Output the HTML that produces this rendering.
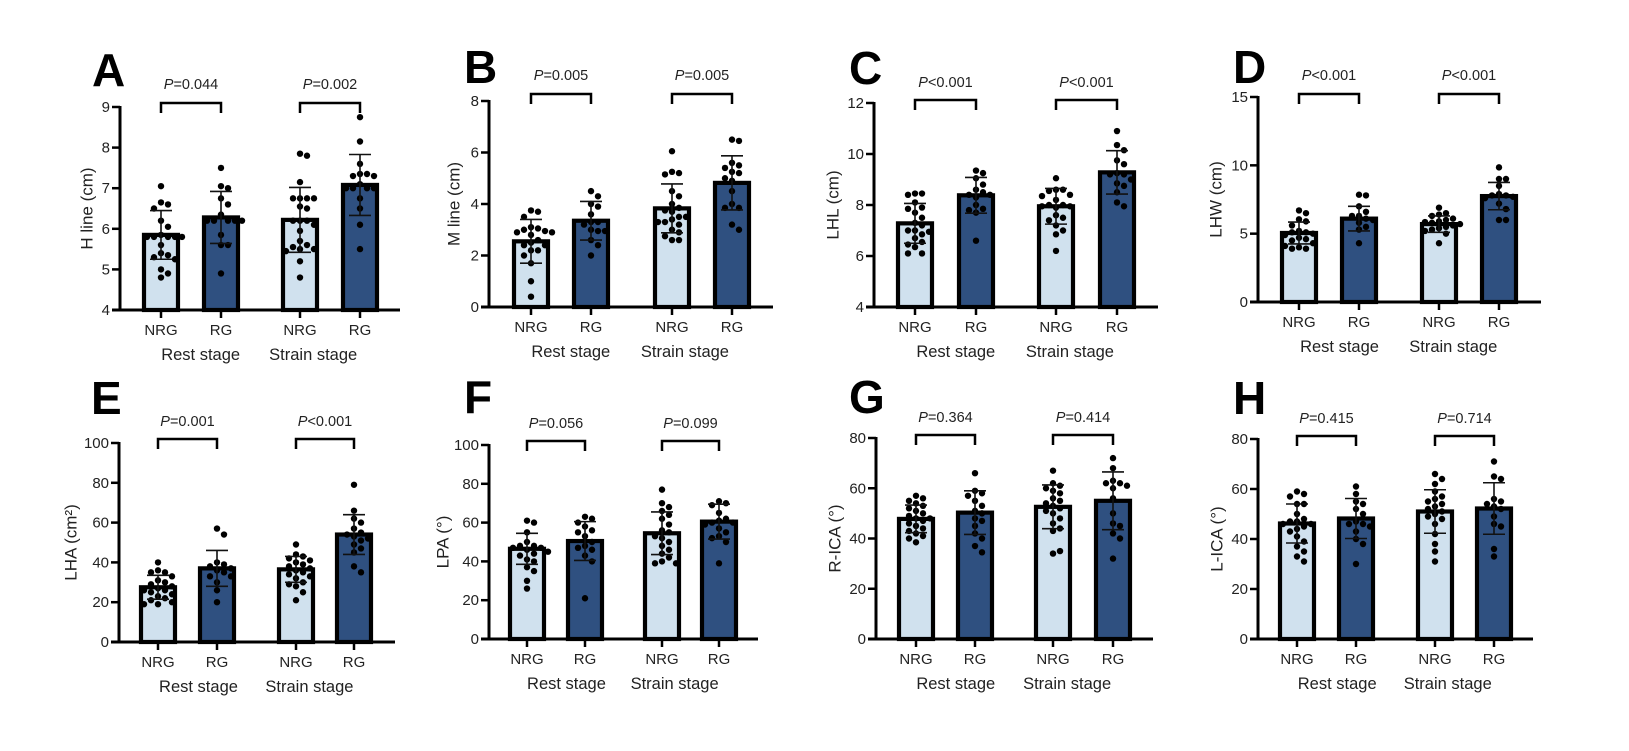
<!DOCTYPE html>
<html><head><meta charset="utf-8">
<style>
html,body{margin:0;padding:0;background:#fff;}
svg{display:block;font-family:"Liberation Sans",Arial,sans-serif;}
</style></head>
<body>
<svg id="fig" width="1629" height="751" viewBox="0 0 1629 751" xmlns="http://www.w3.org/2000/svg"></svg>
<script>
// ---- data (per panel, per group: NRG rest, RG rest, NRG strain, RG strain) ----
const groupLabels = ["NRG","RG","NRG","RG"];
const stageLabels = ["Rest stage","Strain stage"];

const aMeans = [5.85, 6.28, 6.22, 7.08];
const aSDs = [0.6, 0.64, 0.8, 0.75];
const aPoints = [
 [7.05,6.65,6.6,6.5,6.2,6.05,5.85,5.8,5.8,5.8,5.8,5.8,5.6,5.4,5.35,5.3,5.25,5.0,4.9,4.8],
 [7.5,7.05,7.0,6.75,6.6,6.35,6.2,6.2,6.2,6.2,6.2,5.85,5.6,5.6,4.9],
 [7.85,7.8,7.15,6.75,6.75,6.75,6.75,6.55,6.5,6.2,6.2,6.2,6.1,5.95,5.7,5.6,5.55,5.5,5.5,5.45,5.2,4.8],
 [8.75,8.15,7.6,7.35,7.35,7.3,7.3,7.1,7.0,7.0,7.0,7.0,6.75,6.5,6.1,5.5]];
const aP = ["=0.044","=0.002"];

const bMeans = [2.55, 3.35, 3.83, 4.82];
const bSDs = [0.85, 0.75, 0.95, 1.05];
const bPoints = [
 [3.75,3.7,3.5,3.1,3.05,3.0,2.95,2.9,2.9,2.8,2.6,2.5,2.4,2.4,2.2,2.2,2.0,1.7,1.0,0.4],
 [4.5,4.3,4.0,3.9,3.6,3.3,3.3,3.2,3.0,2.95,2.95,2.6,2.4,2.0],
 [6.05,5.25,5.2,5.15,4.5,4.3,4.0,3.85,3.75,3.7,3.5,3.5,3.4,3.3,3.3,3.2,3.0,2.9,2.75,2.6,2.6],
 [6.5,6.45,5.6,5.5,5.4,5.25,5.2,5.0,4.9,4.5,4.0,3.85,3.85,3.2,3.0]];
const bP = ["=0.005","=0.005"];

const cMeans = [7.28, 8.38, 7.95, 9.28];
const cSDs = [0.78, 0.7, 0.7, 0.85];
const cPoints = [
 [8.45,8.45,8.4,8.1,7.9,7.85,7.7,7.5,7.3,7.2,7.0,7.0,6.95,6.85,6.7,6.55,6.45,6.35,6.1,6.1],
 [9.35,9.25,9.05,8.8,8.6,8.5,8.4,8.4,8.3,8.0,7.85,7.8,7.7,6.6],
 [9.05,8.6,8.6,8.55,8.4,8.35,8.2,8.0,8.0,7.95,7.95,7.9,7.6,7.5,7.4,7.2,7.0,6.85,6.2],
 [10.9,10.35,10.15,9.75,9.6,9.25,9.2,9.2,9.0,8.85,8.75,8.5,8.1,7.95]];
const cP = ["<0.001","<0.001"];

const dMeans = [5.05, 6.1, 5.7, 7.75];
const dSDs = [0.8, 0.9, 0.6, 1.0];
const dPoints = [
 [6.7,6.5,6.05,5.9,5.6,5.2,5.1,5.1,5.0,4.9,4.7,4.6,4.5,4.3,4.0,3.9,3.9,4.1],
 [7.85,7.8,7.0,6.6,6.3,6.3,6.1,6.0,5.8,5.5,5.3,4.3],
 [6.9,6.5,6.4,6.3,6.1,6.0,5.9,5.85,5.8,5.7,5.6,5.5,5.4,5.3,5.2,5.0,4.3],
 [9.85,9.0,9.0,8.5,7.9,7.8,7.8,7.7,7.6,7.2,6.8,6.0,6.0]];
const dP = ["<0.001","<0.001"];

const eMeans = [27.5, 37, 36.5, 54];
const eSDs = [6, 9, 6.5, 10];
const ePoints = [
 [40,36,35,35,33,31,30,29,28,27,26,26,25,24,23,22,21,20,19,19],
 [57,54,40,39,38,37,36,35,33,33,30,26,20],
 [49,44,43,42,41,40,39,38,37,36,35,34,33,32,30,29,28,25,21],
 [79,66,62,60,57,55,54,53,52,51,49,47,45,38,35]];
const eP = ["=0.001","<0.001"];

const fMeans = [46.5, 50.5, 54.5, 60.5];
const fSDs = [8, 10, 11, 9];
const fPoints = [
 [61,60,55,50,48,48,47,47,46,45,44,43,41,40,37,35,30,26],
 [63,62,60,58,56,55,53,50,48,47,46,43,40,21],
 [77,70,68,66,64,62,59,56,55,53,52,50,48,46,44,42,40,39,39],
 [71,70,69,65,62,61,60,60,59,57,55,53,52,50,39]];
const fP = ["=0.056","=0.099"];

const gMeans = [47.8, 50.3, 52.6, 55];
const gSDs = [5.5, 8.7, 8.7, 11.5];
const gPoints = [
 [57,56,55,54,53,52,51,50,49,48,48,47,46,45,44,43,42,41,40,38.5],
 [66,59,58,57,55,53,51,50,48,47,45,42,40,37,34.5],
 [67,62,61,60,59,58,56,55,54,53,52,51,50,48,46,44,43,34,35],
 [72,68,63,62,62,61,60,56,50,46,45,42,40,32]];
const gP = ["=0.364","=0.414"];

const hMeans = [46.2, 48.2, 51, 52.2];
const hSDs = [7.8, 8, 8.7, 10.3];
const hPoints = [
 [59,58,57,54,54,50,48,47,47,46,46,45,44,43,41,39,37,35,33,31],
 [61,58,55,54,52,50,47,46,46,45,43,40,38,30],
 [66,64,62,59,57,56,55,54,53,52,51,50,49,48,46,42,38,35,31],
 [71,65,64,56,55,54,53,52,49,46,45,36,33]];
const hP = ["=0.415","=0.714"];

const aTicks = [4,5,6,7,8,9];
const bTicks = [0,2,4,6,8];
const cTicks = [4,6,8,10,12];
const dTicks = [0,5,10,15];
const eTicks = [0,20,40,60,80,100];
const fTicks = [0,20,40,60,80,100];
const gTicks = [0,20,40,60,80];
const hTicks = [0,20,40,60,80];

// ---- layout (geometry only) ----
const panels = [
 {id:"A",title:"H line (cm)",means:aMeans,sds:aSDs,pts:aPoints,p:aP,ticks:aTicks,ax:120,top:107,bot:310,right:400,cx:[161,221,300,360],lx:92,ly:86,py:89,by:103,tx:87},
 {id:"B",title:"M line (cm)",means:bMeans,sds:bSDs,pts:bPoints,p:bP,ticks:bTicks,ax:489,top:101,bot:307,right:773,cx:[531,591,672,732],lx:464,ly:83,py:80,by:94,tx:454},
 {id:"C",title:"LHL (cm)",means:cMeans,sds:cSDs,pts:cPoints,p:cP,ticks:cTicks,ax:874,top:103,bot:307,right:1158,cx:[915,976,1056,1117],lx:849,ly:84,py:87,by:100,tx:833},
 {id:"D",title:"LHW (cm)",means:dMeans,sds:dSDs,pts:dPoints,p:dP,ticks:dTicks,ax:1258,top:97,bot:302,right:1541,cx:[1299,1359,1439,1499],lx:1233,ly:83,py:80,by:94,tx:1216},
 {id:"E",title:"LHA (cm²)",means:eMeans,sds:eSDs,pts:ePoints,p:eP,ticks:eTicks,ax:119,top:443,bot:642,right:395,cx:[158,217,296,354],lx:91,ly:414,py:426,by:439,tx:71},
 {id:"F",title:"LPA (°)",means:fMeans,sds:fSDs,pts:fPoints,p:fP,ticks:fTicks,ax:489,top:445,bot:639,right:758,cx:[527,585,662,719],lx:464,ly:413,py:428,by:441,tx:443},
 {id:"G",title:"R-ICA (°)",means:gMeans,sds:gSDs,pts:gPoints,p:gP,ticks:gTicks,ax:876,top:438,bot:639,right:1153,cx:[916,975,1053,1113],lx:849,ly:413,py:422,by:435,tx:835},
 {id:"H",title:"L-ICA (°)",means:hMeans,sds:hSDs,pts:hPoints,p:hP,ticks:hTicks,ax:1258,top:439,bot:639,right:1533,cx:[1297,1356,1435,1494],lx:1233,ly:414,py:423,by:436,tx:1217}
];
const fills = ["#d0e1ee","#2f5080","#d0e1ee","#2f5080"];
const NS = "http://www.w3.org/2000/svg";
const svg = document.getElementById("fig");
function mk(tag, attrs, parent){
  const e = document.createElementNS(NS, tag);
  for (const k in attrs) e.setAttribute(k, attrs[k]);
  (parent||svg).appendChild(e);
  return e;
}
panels.forEach(P => {
  const g = mk("g", {});
  
  
  const y0 = P.ticks[0], y1 = P.ticks[P.ticks.length-1];
  const Y = v => P.bot - (v - y0) / (y1 - y0) * (P.bot - P.top);
  const L = mk("text", {x:P.lx, y:P.ly, "font-size":46, "font-weight":"bold", fill:"#000"}, g);
  L.textContent = P.id;
  
  
  const T = mk("text", {x:P.tx, y:(P.top+P.bot)/2, "font-size":17, "text-anchor":"middle", fill:"#222", transform:`rotate(-90 ${P.tx} ${(P.top+P.bot)/2})`, "dominant-baseline":"central"}, g);
  T.textContent = P.title;
  
  
  P.means.forEach((m, i) => {
    const c = P.cx[i];
    const r = mk("rect", {x:c-17, y:Y(m), width:34, height:P.bot - Y(m), fill:fills[i], stroke:"#000", "stroke-width":4.2}, g);
    
    
    // beeswarm placement
    const placed = [];
    const offs = [0,7,-7,14,-14,21,-21];
    P.pts[i].forEach(v => {
      const py = Y(v);
      let ox = 0;
      for (const o of offs) {
        if (!placed.some(q => Math.hypot(q[0]-o, q[1]-py) < 6.8)) { ox = o; break; }
      }
      placed.push([ox, py]);
      const d = mk("circle", {cx:c + ox, cy:py, r:3.2, fill:"#000"}, g);
      
      
    });
    const s = P.sds[i];
    const eb = mk("path", {d:`M${c} ${Y(m-s)}V${Y(m+s)}M${c-11} ${Y(m+s)}H${c+11}M${c-11} ${Y(m-s)}H${c+11}`, stroke:"#111", "stroke-width":1.6, fill:"none"}, g);
    
    
    mk("line", {x1:c, x2:c, y1:P.bot, y2:P.bot+8, stroke:"#000", "stroke-width":2.5}, g);
    const xl = mk("text", {x:c, y:P.bot+25, "font-size":15, "text-anchor":"middle", fill:"#222"}, g);
    xl.textContent = groupLabels[i];
    
    
  });
  const ya = mk("line", {x1:P.ax, x2:P.ax, y1:P.top-1, y2:P.bot+1.5, stroke:"#000", "stroke-width":3}, g);
  
  
  const xa = mk("line", {x1:P.ax-8, x2:P.right, y1:P.bot, y2:P.bot, stroke:"#000", "stroke-width":3}, g);
  
  
  P.ticks.forEach(t => {
    mk("line", {x1:P.ax-8, x2:P.ax, y1:Y(t), y2:Y(t), stroke:"#000", "stroke-width":2.5}, g);
    const tl = mk("text", {x:P.ax-10, y:Y(t)+5, "font-size":15, "text-anchor":"end", fill:"#222"}, g);
    tl.textContent = t;
    
    
  });
  const sx = [P.ax + (P.right-P.ax)*0.288, P.ax + (P.right-P.ax)*0.69];
  stageLabels.forEach((s, j) => {
    const st = mk("text", {x:sx[j], y:P.bot+50, "font-size":16.5, "text-anchor":"middle", fill:"#222"}, g);
    st.textContent = s;
    
    
  });
  [0,1].forEach(j => {
    const a = P.cx[2*j], b = P.cx[2*j+1];
    const br = mk("path", {d:`M${a} ${P.by+10}V${P.by}H${b}V${P.by+10}`, stroke:"#000", "stroke-width":2.5, fill:"none"}, g);
    
    
    const pt = mk("text", {x:(a+b)/2, y:P.py, "font-size":14.5, "text-anchor":"middle", fill:"#222"}, g);
    const it = mk("tspan", {"font-style":"italic"}, pt);
    it.textContent = "P";
    const rest = mk("tspan", {}, pt);
    rest.textContent = P.p[j];
    
    
  });
});
</script>
</body></html>
